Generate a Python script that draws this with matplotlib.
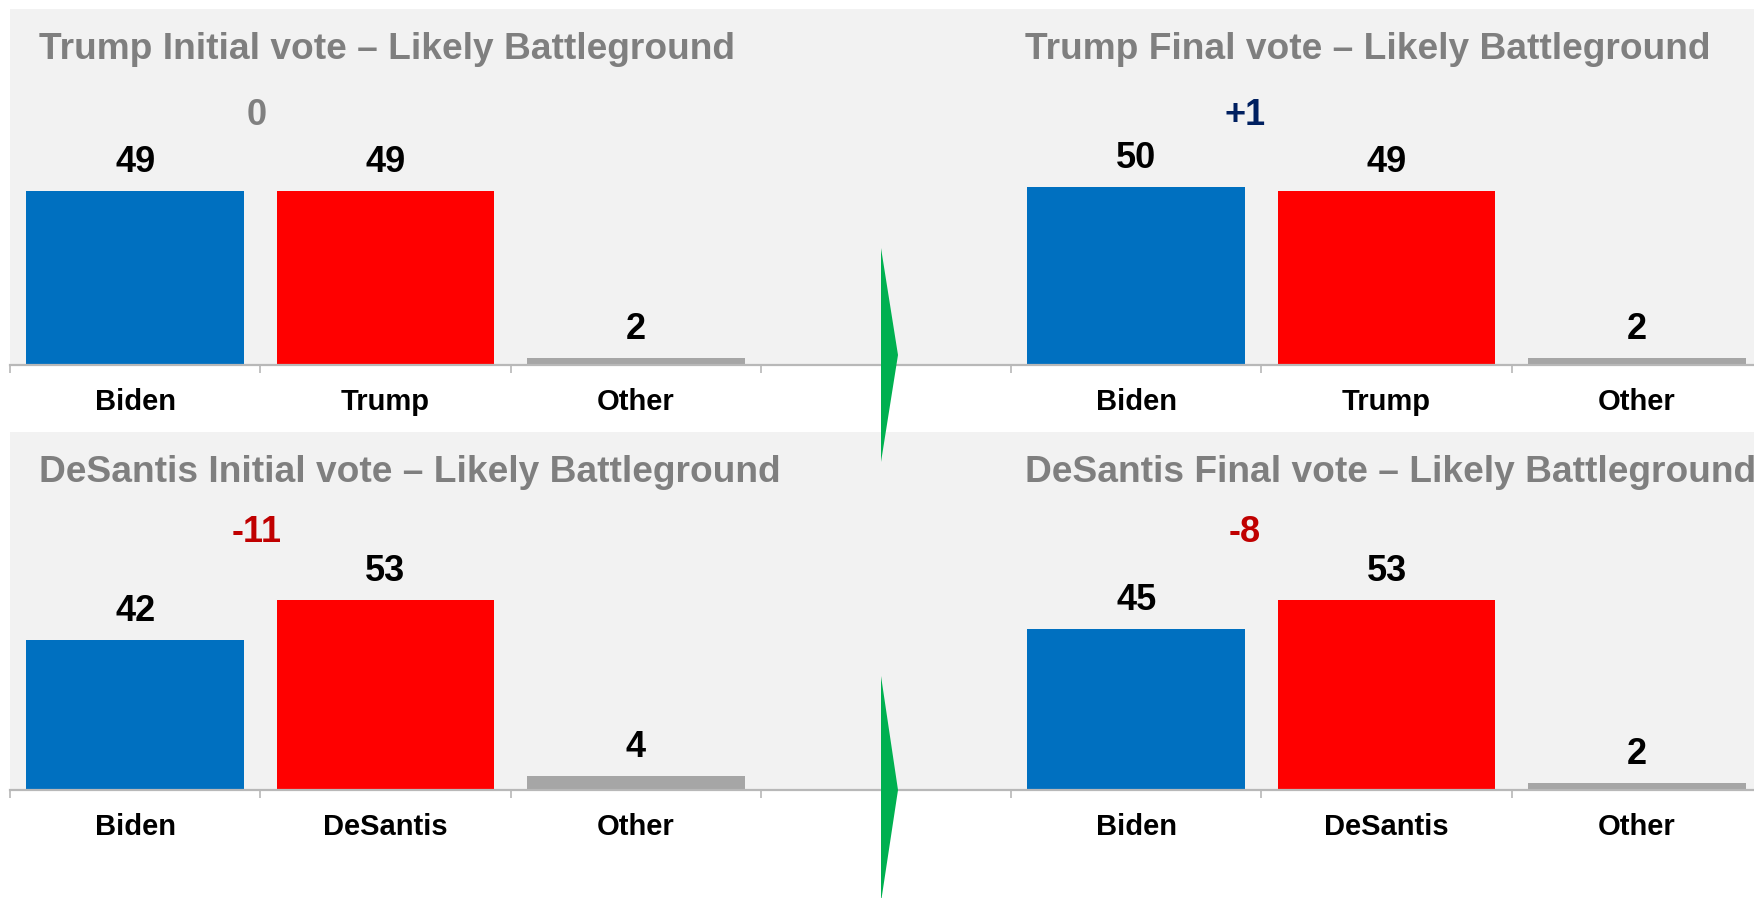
import matplotlib
matplotlib.use("Agg")
import matplotlib.pyplot as plt
from matplotlib.patches import Polygon

plt.rcParams['font.family'] = ['Liberation Sans', 'DejaVu Sans']
plt.rcParams['font.weight'] = 'bold'

# Данные
top_categories = ['Biden', 'Trump', 'Other']
trump_initial = [49, 49, 2]
trump_final = [50, 49, 2]

bottom_categories = ['Biden', 'DeSantis', 'Other']
desantis_initial = [42, 53, 4]
desantis_final = [45, 53, 2]

top_titles = ['Trump Initial vote \u2013 Likely Battleground', 'Trump Final vote \u2013 Likely Battleground']
bottom_titles = ['DeSantis Initial vote \u2013 Likely Battleground', 'DeSantis Final vote \u2013 Likely Battleground']

bar_colors = ['#0070C0', '#FF0000', '#A6A6A6']
bg = '#F2F2F2'
axis_gray = '#B8B8B8'
title_gray = '#7F7F7F'

W, H = 1754, 898
fig = plt.figure(figsize=(W / 100, H / 100), dpi=100)


def margin_text(values):
    m = values[0] - values[1]
    if m == 0:
        return '0', '#808080'
    if m > 0:
        return f'+{m}', '#002060'
    return f'{m}', '#C00000'


def draw_row(top_px, bottom_px, categories, initial, final, titles, delta_y):
    ax = fig.add_axes([10 / W, 1 - bottom_px / H, 1752 / W, (bottom_px - top_px) / H])
    ax.set_facecolor(bg)
    ax.set_xlim(-0.5, 6.5)
    ax.set_ylim(0, 100)

    for offset, values in ((0, initial), (4, final)):
        xs = [offset + i for i in range(len(values))]
        ax.bar(xs, values, width=0.87, color=bar_colors, zorder=2)
        for x, v, cat in zip(xs, values, categories):
            ax.annotate(str(v), (x, v), xytext=(0, 13.7), textcoords='offset points',
                        ha='center', va='baseline', fontsize=26, fontweight='bold', color='black')
            ax.annotate(cat, (x, 0), xycoords=('data', 'axes fraction'), xytext=(0, -32.5),
                        textcoords='offset points', ha='center', va='baseline',
                        fontsize=21, fontweight='bold', color='black', annotation_clip=False)

    # разница Biden - соперник
    for dx, values in ((0.485, initial), (4.434, final)):
        txt, col = margin_text(values)
        ax.text(dx, delta_y, txt, ha='center', va='center', fontsize=26,
                fontweight='bold', color=col)

    for sp in ('top', 'left', 'right'):
        ax.spines[sp].set_visible(False)
    ax.spines['bottom'].set_color(axis_gray)
    ax.spines['bottom'].set_linewidth(1.6)
    ax.set_yticks([])
    ax.set_xticks([i - 0.5 for i in range(8)])
    ax.set_xticklabels([])
    ax.tick_params(axis='x', direction='out', length=5.8, width=1.2, color=axis_gray)

    fig.text(39 / W, 1 - (top_px + 50) / H, titles[0], ha='left', va='baseline',
             fontsize=26.7, fontweight='bold', color=title_gray)
    fig.text(1025 / W, 1 - (top_px + 50) / H, titles[1], ha='left', va='baseline',
             fontsize=26.7, fontweight='bold', color=title_gray)
    return ax


draw_row(9, 365, top_categories, trump_initial, trump_final, top_titles, 70)
draw_row(432, 790, bottom_categories, desantis_initial, desantis_final, bottom_titles, 72)

# зелёные стрелки
for y_top, y_tip, y_bot in ((248, 355, 462), (676, 790, 902)):
    pts = [(881 / W, 1 - y_top / H), (898 / W, 1 - y_tip / H), (881 / W, 1 - y_bot / H)]
    fig.patches.append(Polygon(pts, closed=True, transform=fig.transFigure,
                               facecolor='#00B050', edgecolor='none', zorder=5))

fig.savefig('out.png', dpi=100, facecolor='white')
